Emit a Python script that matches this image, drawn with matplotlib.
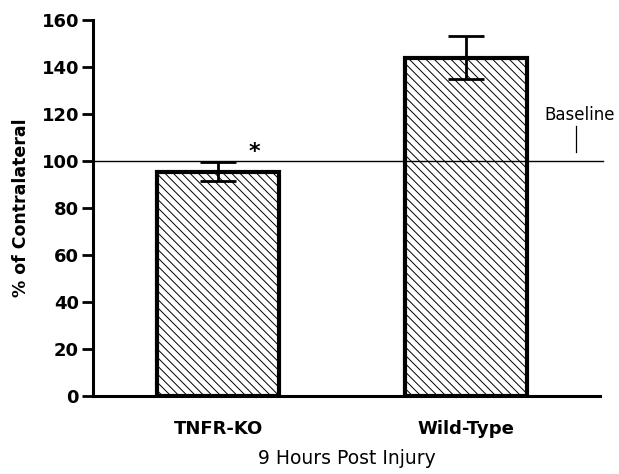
import matplotlib
matplotlib.use("Agg")
import matplotlib.pyplot as plt
import numpy as np

plt.rcParams['font.family'] = ['DejaVu Sans']
plt.rcParams['hatch.linewidth'] = 0.7

categories = ["TNFR-KO", "Wild-Type"]
values = [95.5, 144.0]
errors = [4.0, 9.0]
baseline = 100
yticks = [0, 20, 40, 60, 80, 100, 120, 140, 160]

fig = plt.figure(figsize=(6.19, 4.74), dpi=100)
ax = fig.add_axes([93/619, 1-396/474, (600-93)/619, (396-20)/474])

x = np.arange(len(categories))
ax.bar(x, values, width=0.49, color='white', edgecolor='black',
       linewidth=3.0, hatch='\\\\\\\\', zorder=2)
ax.errorbar(x, values, yerr=errors, fmt='none', ecolor='black',
            elinewidth=2.0, capsize=13, capthick=2.0, zorder=3)
ax.axhline(baseline, color='black', linewidth=1.0, zorder=4, xmax=1.005, clip_on=False)

ax.set_xlim(-0.504, 1.54)
ax.set_ylim(0, 160)
ax.set_yticks(yticks)
ax.set_yticklabels([str(t) for t in yticks], fontsize=13, fontweight='bold')
ax.set_xticks(x)
ax.set_xticklabels(categories, fontsize=13, fontweight='bold')
ax.tick_params(axis='x', length=0, pad=17)
ax.tick_params(axis='y', length=8, width=2, pad=2)

for s in ['top', 'right']:
    ax.spines[s].set_visible(False)
ax.spines['left'].set_linewidth(2.2)
ax.spines['bottom'].set_linewidth(2.2)

ax.set_ylabel("% of Contralateral", fontsize=12.5, fontweight='bold', labelpad=8)
ax.set_xlabel("9 Hours Post Injury", fontsize=13.5, labelpad=8)

# significance star
ax.text(x[0] + 0.145, 99.5, "*", fontsize=16, fontweight='bold', ha='center', va='bottom')

# Baseline annotation
trans = matplotlib.transforms.blended_transform_factory(ax.transAxes, ax.transData)
ax.text(0.96, 119.6, "Baseline", transform=trans, fontsize=12, ha='center', va='center', clip_on=False)
ax.plot([0.953, 0.953], [104, 115], transform=trans, color='black', linewidth=0.9, clip_on=False)

fig.savefig("out.png", dpi=100)
